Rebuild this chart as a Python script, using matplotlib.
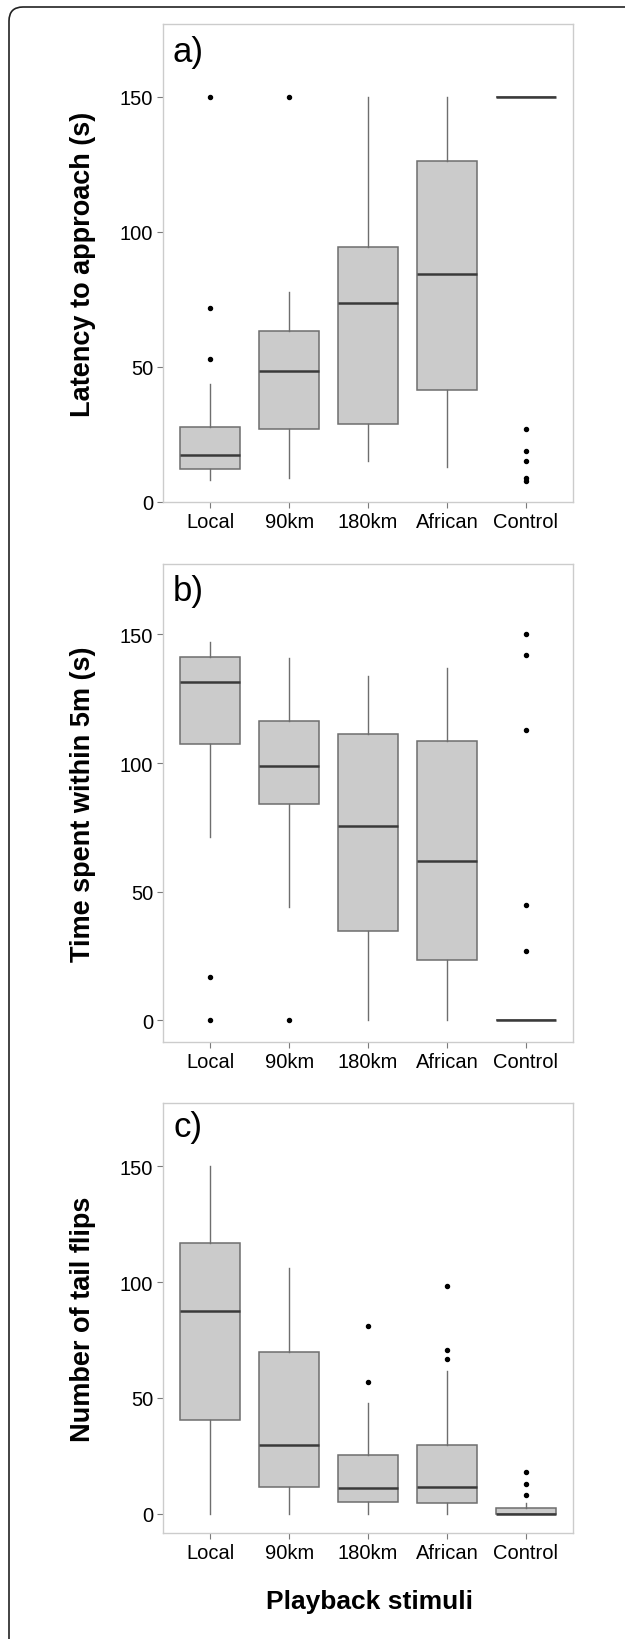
import matplotlib
matplotlib.use("Agg")
import matplotlib.pyplot as plt
from matplotlib.patches import FancyBboxPatch
from matplotlib.transforms import IdentityTransform

plt.rcParams['font.family'] = ['Liberation Sans', 'DejaVu Sans']

categories = ['Local', '90km', '180km', 'African', 'Control']

# panel a) latency to approach
a_whislo = [8.0, 8.9, 15.1, 13.0, 150]
a_q1 = [12.3, 26.9, 29.0, 41.4, 150]
a_med = [17.5, 48.4, 73.8, 84.6, 150]
a_q3 = [27.8, 63.3, 94.4, 126.2, 150]
a_whishi = [43.8, 77.8, 150, 150, 150]
a_fliers = [[52.8, 71.9, 150], [150], [], [], [26.9, 18.9, 15.1, 8.9, 7.9]]

# panel b) time spent within 5m
b_whislo = [71.2, 44.0, 0, 0, 0]
b_q1 = [107.6, 84.3, 34.8, 23.3, 0]
b_med = [131.7, 98.7, 75.6, 62.1, 0]
b_q3 = [141.2, 116.3, 111.2, 108.6, 0]
b_whishi = [147.1, 140.8, 133.9, 136.8, 0]
b_fliers = [[17.0, 0], [0], [], [], [150, 141.9, 113.0, 45.0, 27.0]]

# panel c) number of tail flips
c_whislo = [0, 0, 0, 0, 0]
c_q1 = [40.5, 11.4, 5.2, 4.8, 0]
c_med = [87.6, 29.5, 11.1, 11.7, 0]
c_q3 = [116.7, 69.7, 25.3, 29.5, 2.6]
c_whishi = [150, 106.1, 47.7, 61.8, 4.5]
c_fliers = [[], [], [81.1, 57.0], [98.2, 70.5, 67.0], [18.0, 13.0, 8.0]]

panels = [
    ('a)', 'Latency to approach (s)', a_whislo, a_q1, a_med, a_q3, a_whishi, a_fliers, (0, 177)),
    ('b)', 'Time spent within 5m (s)', b_whislo, b_q1, b_med, b_q3, b_whishi, b_fliers, (-8.4, 177.4)),
    ('c)', 'Number of tail flips', c_whislo, c_q1, c_med, c_q3, c_whishi, c_fliers, (-8.3, 177.3)),
]

W, H = 625, 1640
fig = plt.figure(figsize=(W / 100, H / 100), dpi=100)

# outer card border (cut at right and bottom)
card = FancyBboxPatch((9, -16), 640, H - 8 + 16, boxstyle="round,pad=0,rounding_size=14",
                      transform=IdentityTransform(), fill=False, edgecolor='#222222', linewidth=1.2)
fig.add_artist(card)

# axes boxes in pixels: (left, top, right, bottom)
boxes = [(163, 25, 573, 503), (163, 565, 573, 1043), (163, 1104, 573, 1534)]

for (tag, ylabel, lo, q1, med, q3, hi, fl, ylim), (l, t, r, b) in zip(panels, boxes):
    ax = fig.add_axes([l / W, 1 - b / H, (r - l) / W, (b - t) / H])
    stats = []
    for i in range(len(categories)):
        stats.append(dict(whislo=lo[i], q1=q1[i], med=med[i], q3=q3[i], whishi=hi[i], fliers=fl[i]))
    ax.bxp(stats, positions=range(1, 6), widths=0.76, patch_artist=True, showcaps=False,
           boxprops=dict(facecolor='#cbcbcb', edgecolor='#6e6e6e', linewidth=1.1),
           whiskerprops=dict(color='#6e6e6e', linewidth=1.0),
           medianprops=dict(color='#3a3a3a', linewidth=1.8),
           flierprops=dict(marker='o', markersize=2.9, markerfacecolor='black',
                           markeredgecolor='black', linestyle='none'))
    ax.set_xlim(0.4, 5.6)
    ax.set_ylim(*ylim)
    ax.set_yticks([0, 50, 100, 150])
    ax.set_xticks(range(1, 6))
    ax.set_xticklabels(categories)
    ax.tick_params(labelsize=14.5, colors='#7a7a7a', labelcolor='black', length=4, width=0.8, pad=3)
    for s in ax.spines.values():
        s.set_color('#cccccc')
        s.set_linewidth(1.0)
    ax.text(0.72, 167, tag, fontsize=25, ha='center', va='center')
    fig.text(83 / W, 1 - ((t + b) / 2) / H, ylabel, rotation=90, ha='center', va='center',
             fontsize=19.5, fontweight='bold')

fig.text(370 / W, 1 - 1602 / H, 'Playback stimuli', ha='center', va='center',
         fontsize=19, fontweight='bold')

fig.savefig('out.png', dpi=100)
